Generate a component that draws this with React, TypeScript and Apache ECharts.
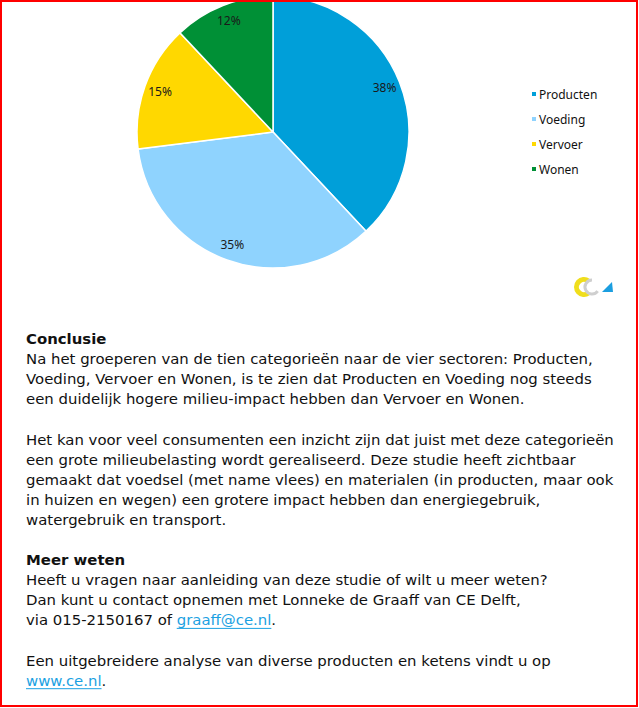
import React, { useEffect, useRef } from "react";
import * as echarts from "echarts";

const sectors = ["Producten", "Voeding", "Vervoer", "Wonen"];
const shares = [38, 35, 15, 12];
const sectorColors = ["#009fd9", "#8fd3fe", "#ffd800", "#009036"];

const heading1 = "Conclusie";
const para1 = [
  "Na het groeperen van de tien categorieën naar de vier sectoren: Producten,",
  "Voeding, Vervoer en Wonen, is te zien dat Producten en Voeding nog steeds",
  "een duidelijk hogere milieu-impact hebben dan Vervoer en Wonen.",
];
const para2 = [
  "Het kan voor veel consumenten een inzicht zijn dat juist met deze categorieën",
  "een grote milieubelasting wordt gerealiseerd. Deze studie heeft zichtbaar",
  "gemaakt dat voedsel (met name vlees) en materialen (in producten, maar ook",
  "in huizen en wegen) een grotere impact hebben dan energiegebruik,",
  "watergebruik en transport.",
];
const heading2 = "Meer weten";
const para3 = [
  "Heeft u vragen naar aanleiding van deze studie of wilt u meer weten?",
  "Dan kunt u contact opnemen met Lonneke de Graaff van CE Delft,",
];
const viaPrefix = "via 015-2150167 of ";
const emailLink = "graaff@ce.nl";
const para4 = "Een uitgebreidere analyse van diverse producten en ketens vindt u op";
const webLink = "www.ce.nl";

const FONT = "DejaVu Sans";
const FS = 14.9;
const TEXT_COLOR = "#111111";
const LINK_COLOR = "#1ba1e2";

function measure(text: string, weight = "normal") {
  const c = document.createElement("canvas").getContext("2d")!;
  c.font = `${weight} ${FS}px "${FONT}"`;
  return c.measureText(text).width;
}

export default function App() {
  const ref = useRef<HTMLDivElement>(null);
  useEffect(() => {
    const chart = echarts.init(ref.current!, null, { renderer: "svg" });
    const left = 26;
    const top0 = 339;
    const step = 20.1;
    const els: any[] = [];
    const lineAt = (i: number) => top0 + i * step;
    const addText = (text: string, i: number, bold = false, x = left, color = TEXT_COLOR) => {
      els.push({
        type: "text",
        x,
        y: lineAt(i),
        style: {
          text,
          fill: color,
          font: `${bold ? "bold " : ""}${FS}px "${FONT}"`,
          textVerticalAlign: "middle",
          verticalAlign: "middle",
        },
      });
    };
    addText(heading1, 0, true);
    para1.forEach((t, k) => addText(t, 1 + k));
    para2.forEach((t, k) => addText(t, 5 + k));
    addText(heading2, 11, true);
    para3.forEach((t, k) => addText(t, 12 + k));
    addText(viaPrefix, 14);
    const wPre = measure(viaPrefix);
    const wMail = measure(emailLink);
    addText(emailLink, 14, false, left + wPre, LINK_COLOR);
    addText(".", 14, false, left + wPre + wMail);
    els.push({
      type: "line",
      shape: { x1: left + wPre, y1: lineAt(14) + 8, x2: left + wPre + wMail, y2: lineAt(14) + 8 },
      style: { stroke: LINK_COLOR, lineWidth: 1 },
    });
    addText(para4, 16);
    const wWeb = measure(webLink);
    addText(webLink, 17, false, left, LINK_COLOR);
    addText(".", 17, false, left + wWeb);
    els.push({
      type: "line",
      shape: { x1: left, y1: lineAt(17) + 8, x2: left + wWeb, y2: lineAt(17) + 8 },
      style: { stroke: LINK_COLOR, lineWidth: 1 },
    });
    // logo
    els.push(
      { type: "arc", shape: { cx: 584, cy: 287, r: 7.5, startAngle: Math.PI * 0.3, endAngle: Math.PI * 1.7, clockwise: true }, style: { stroke: "#f0de1c", lineWidth: 5, fill: "none" } },
      { type: "arc", shape: { cx: 592, cy: 287, r: 7, startAngle: Math.PI * 0.2, endAngle: Math.PI * 1.5, clockwise: true }, style: { stroke: "#cfcfcf", lineWidth: 3, fill: "none" } },
      { type: "polygon", shape: { points: [[602, 292], [613, 292], [612, 282]] }, style: { fill: "#1b9ee0" } }
    );
    els.push({
      type: "rect",
      shape: { x: 1, y: 1, width: 636, height: 705 },
      style: { stroke: "#ff0000", lineWidth: 2, fill: "none" },
      z: 100,
    });

    chart.setOption({
      animation: false,
      backgroundColor: "#ffffff",
      legend: {
        orient: "vertical",
        left: 525,
        top: 83,
        icon: "rect",
        itemWidth: 6,
        itemHeight: 6,
        itemGap: 13,
        data: sectors,
        textStyle: { fontFamily: "Noto Sans", fontSize: 12, color: "#111", padding: [0, 0, 0, -3] },
      },
      series: [
        {
          type: "pie",
          center: [273, 132],
          radius: [0, 136],
          startAngle: 90,
          clockwise: true,
          label: { show: false },
          labelLine: { show: false },
          itemStyle: { borderColor: "#ffffff", borderWidth: 1.5 },
          data: sectors.map((n, i) => ({ name: n, value: shares[i], itemStyle: { color: sectorColors[i] } })),
        },
        {
          type: "pie",
          silent: true,
          center: [273, 132],
          radius: [0, 234],
          startAngle: 90,
          clockwise: true,
          itemStyle: { color: "rgba(0,0,0,0)" },
          label: {
            show: true,
            position: "inside",
            formatter: "{c}%",
            fontFamily: "Noto Sans",
            fontSize: 12,
            color: "#1a1a1a",
          },
          labelLine: { show: false },
          data: sectors.map((n, i) => ({ name: "_" + n, value: shares[i] })),
        },
      ],
      graphic: { elements: els },
    });
    return () => chart.dispose();
  }, []);
  return <div ref={ref} style={{ position: "absolute", left: 0, top: 0, width: 639, height: 708 }} />;
}
